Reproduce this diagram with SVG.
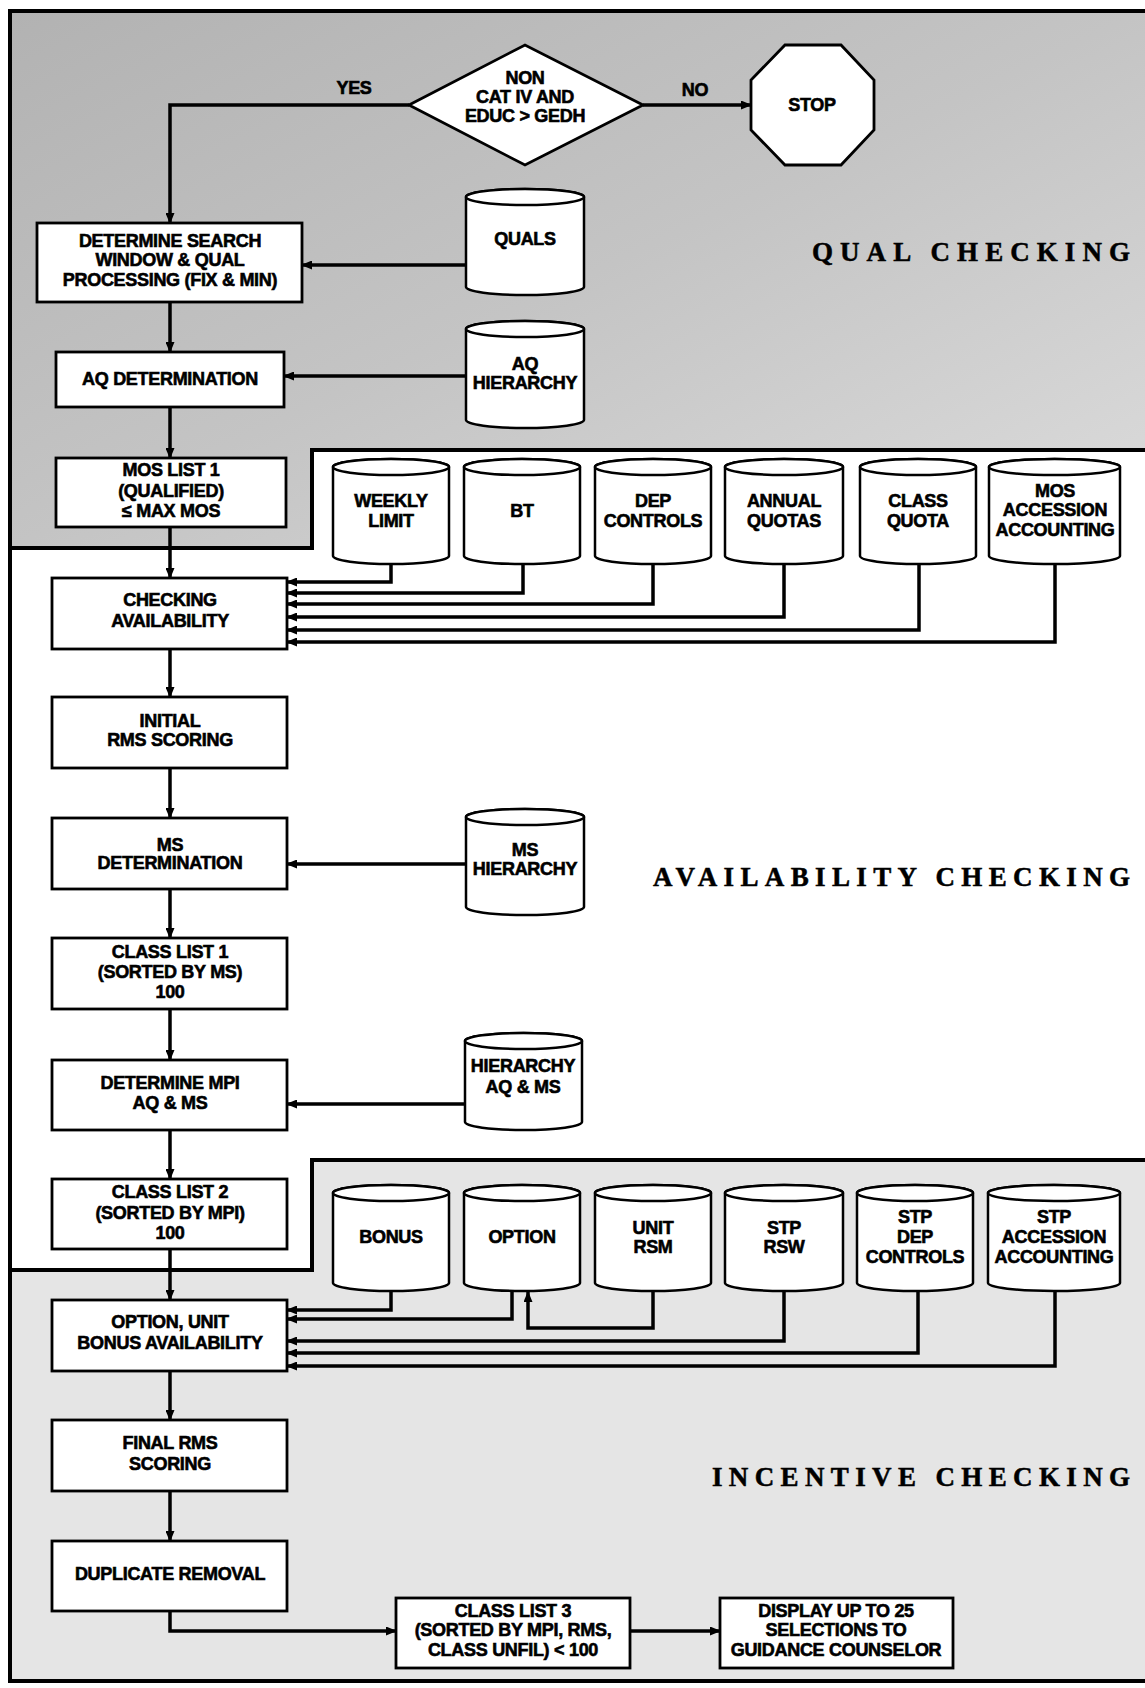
<svg xmlns="http://www.w3.org/2000/svg" width="1145" height="1688" viewBox="0 0 1145 1688">
<defs>
<style>
.box{fill:#fff;stroke:#000;stroke-width:2.8}
.cyl{fill:#fff;stroke:#000;stroke-width:2.5}
.t{font-family:"Liberation Sans",Arial,sans-serif;font-weight:bold;font-size:18px;text-anchor:middle;fill:#000;stroke:#000;stroke-width:0.6;letter-spacing:-0.3px}
.c{fill:none;stroke:#000;stroke-width:3.5}
.a{marker-end:url(#ah)}
.frame{fill:none;stroke:#000;stroke-width:4}
.title{font-family:"Liberation Serif","Times New Roman",serif;font-weight:bold;font-size:27px;fill:#000;stroke:#000;stroke-width:0.5}
</style>
<marker id="ah" markerUnits="userSpaceOnUse" markerWidth="11" markerHeight="9" refX="10" refY="4.5" orient="auto"><path d="M0,0 L11,4.5 L0,9 z" fill="#000"/></marker>
<linearGradient id="gq" x1="0" y1="0" x2="1" y2="1">
<stop offset="0" stop-color="#b2b2b2"/>
<stop offset="0.5" stop-color="#c4c4c4"/>
<stop offset="1" stop-color="#dcdcdc"/>
</linearGradient>
</defs>
<rect width="1145" height="1688" fill="#fff"/>
<g id="regions">
<path d="M10,11 H1145 V450 H312 V548 H10 Z" fill="url(#gq)"/>
<path d="M10,1270 H312 V1160 H1145 V1681 H10 Z" fill="#e5e5e5"/>
<path class="frame" d="M1145,11 H10 V1681 H1145"/>
<path class="frame" d="M10,548 H312 V450 H1145"/>
<path class="frame" d="M10,1270 H312 V1160 H1145"/>
<text class="title" x="812" y="261" textLength="318" lengthAdjust="spacing">QUAL CHECKING</text>
<text class="title" x="653" y="886" textLength="477" lengthAdjust="spacing">AVAILABILITY CHECKING</text>
<text class="title" x="712" y="1486" textLength="418" lengthAdjust="spacing">INCENTIVE CHECKING</text>
</g>
<g id="connectors">
<path class="c a" d="M409,105 H170 V223"/>
<path class="c a" d="M643,105 H751"/>
<path class="c a" d="M466,265 H302"/>
<path class="c a" d="M170,302 V352"/>
<path class="c a" d="M466,376 H284"/>
<path class="c a" d="M170,407 V458"/>
<path class="c a" d="M170,527 V578"/>
<path class="c a" d="M391,564 V582 H287"/>
<path class="c a" d="M523,564 V593 H287"/>
<path class="c a" d="M653,564 V604 H287"/>
<path class="c a" d="M784,564 V617 H287"/>
<path class="c a" d="M919,564 V630 H287"/>
<path class="c a" d="M1055,564 V642 H287"/>
<path class="c a" d="M170,649 V697"/>
<path class="c a" d="M170,768 V818"/>
<path class="c a" d="M466,864 H287"/>
<path class="c a" d="M170,889 V938"/>
<path class="c a" d="M170,1009 V1060"/>
<path class="c a" d="M465,1104 H287"/>
<path class="c a" d="M170,1130 V1179"/>
<path class="c a" d="M170,1249 V1300"/>
<path class="c a" d="M391,1291 V1310 H287"/>
<path class="c a" d="M512,1291 V1319 H287"/>
<path class="c a" d="M653,1291 V1328 H528 V1292"/>
<path class="c a" d="M784,1291 V1341 H287"/>
<path class="c a" d="M918,1291 V1353 H287"/>
<path class="c a" d="M1055,1291 V1366 H287"/>
<path class="c a" d="M170,1371 V1420"/>
<path class="c a" d="M170,1491 V1541"/>
<path class="c a" d="M170,1611 V1631 H396"/>
<path class="c a" d="M630,1631 H720"/>
<text class="t" x="354" y="94" font-size="16">YES</text>
<text class="t" x="695" y="96" font-size="16">NO</text>
</g>
<g id="n-decision">
<polygon class="box" points="409,105 525,45 643,105 525,165"/>
<text class="t" x="525" y="84">NON</text>
<text class="t" x="525" y="103">CAT IV AND</text>
<text class="t" x="525" y="122">EDUC &gt; GEDH</text>
</g>
<g id="n-stop">
<polygon class="box" points="785,45 841,45 874,80 874,130 841,165 785,165 751,130 751,80"/>
<text class="t" x="812" y="111">STOP</text>
</g>
<g id="n-search">
<rect class="box" x="37" y="223" width="265" height="79"/>
<text class="t" x="170" y="247">DETERMINE SEARCH</text>
<text class="t" x="170" y="266">WINDOW &amp; QUAL</text>
<text class="t" x="170" y="286">PROCESSING (FIX &amp; MIN)</text>
</g>
<g id="n-quals">
<path class="cyl" d="M466,197 V287 A59,8 0 0 0 584,287 V197 A59,8 0 0 0 466,197 Z"/>
<ellipse class="cyl" cx="525" cy="197" rx="59" ry="8"/>
<text class="t" x="525" y="245">QUALS</text>
</g>
<g id="n-aqdet">
<rect class="box" x="56" y="352" width="228" height="55"/>
<text class="t" x="170" y="385">AQ DETERMINATION</text>
</g>
<g id="n-aqhier">
<path class="cyl" d="M466,329 V420 A59,8 0 0 0 584,420 V329 A59,8 0 0 0 466,329 Z"/>
<ellipse class="cyl" cx="525" cy="329" rx="59" ry="8"/>
<text class="t" x="525" y="370">AQ</text>
<text class="t" x="525" y="389">HIERARCHY</text>
</g>
<g id="n-mos1">
<rect class="box" x="56" y="458" width="230" height="69"/>
<text class="t" x="171" y="476">MOS LIST 1</text>
<text class="t" x="171" y="497">(QUALIFIED)</text>
<text class="t" x="171" y="517">≤ MAX MOS</text>
</g>
<g id="n-checkavail">
<rect class="box" x="52" y="578" width="235" height="71"/>
<text class="t" x="170" y="606">CHECKING</text>
<text class="t" x="170" y="627">AVAILABILITY</text>
</g>
<g id="n-weekly">
<path class="cyl" d="M333,467 V556 A58,8 0 0 0 449,556 V467 A58,8 0 0 0 333,467 Z"/>
<ellipse class="cyl" cx="391" cy="467" rx="58" ry="8"/>
<text class="t" x="391" y="507">WEEKLY</text>
<text class="t" x="391" y="527">LIMIT</text>
</g>
<g id="n-bt">
<path class="cyl" d="M464,467 V556 A58,8 0 0 0 580,556 V467 A58,8 0 0 0 464,467 Z"/>
<ellipse class="cyl" cx="522" cy="467" rx="58" ry="8"/>
<text class="t" x="522" y="517">BT</text>
</g>
<g id="n-dep">
<path class="cyl" d="M595,467 V556 A58,8 0 0 0 711,556 V467 A58,8 0 0 0 595,467 Z"/>
<ellipse class="cyl" cx="653" cy="467" rx="58" ry="8"/>
<text class="t" x="653" y="507">DEP</text>
<text class="t" x="653" y="527">CONTROLS</text>
</g>
<g id="n-annual">
<path class="cyl" d="M725,467 V556 A59,8 0 0 0 843,556 V467 A59,8 0 0 0 725,467 Z"/>
<ellipse class="cyl" cx="784" cy="467" rx="59" ry="8"/>
<text class="t" x="784" y="507">ANNUAL</text>
<text class="t" x="784" y="527">QUOTAS</text>
</g>
<g id="n-classquota">
<path class="cyl" d="M860,467 V556 A58,8 0 0 0 976,556 V467 A58,8 0 0 0 860,467 Z"/>
<ellipse class="cyl" cx="918" cy="467" rx="58" ry="8"/>
<text class="t" x="918" y="507">CLASS</text>
<text class="t" x="918" y="527">QUOTA</text>
</g>
<g id="n-mosacc">
<path class="cyl" d="M989,467 V556 A65.5,8 0 0 0 1120,556 V467 A65.5,8 0 0 0 989,467 Z"/>
<ellipse class="cyl" cx="1054.5" cy="467" rx="65.5" ry="8"/>
<text class="t" x="1055" y="497">MOS</text>
<text class="t" x="1055" y="516">ACCESSION</text>
<text class="t" x="1055" y="536">ACCOUNTING</text>
</g>
<g id="n-initial">
<rect class="box" x="52" y="697" width="235" height="71"/>
<text class="t" x="170" y="727">INITIAL</text>
<text class="t" x="170" y="746">RMS SCORING</text>
</g>
<g id="n-msdet">
<rect class="box" x="52" y="818" width="235" height="71"/>
<text class="t" x="170" y="851">MS</text>
<text class="t" x="170" y="869">DETERMINATION</text>
</g>
<g id="n-mshier">
<path class="cyl" d="M466,817 V907 A59,8 0 0 0 584,907 V817 A59,8 0 0 0 466,817 Z"/>
<ellipse class="cyl" cx="525" cy="817" rx="59" ry="8"/>
<text class="t" x="525" y="856">MS</text>
<text class="t" x="525" y="875">HIERARCHY</text>
</g>
<g id="n-cl1">
<rect class="box" x="52" y="938" width="235" height="71"/>
<text class="t" x="170" y="958">CLASS LIST 1</text>
<text class="t" x="170" y="978">(SORTED BY MS)</text>
<text class="t" x="170" y="998">100</text>
</g>
<g id="n-detmpi">
<rect class="box" x="52" y="1060" width="235" height="70"/>
<text class="t" x="170" y="1089">DETERMINE MPI</text>
<text class="t" x="170" y="1109">AQ &amp; MS</text>
</g>
<g id="n-hieraqms">
<path class="cyl" d="M465,1041 V1122 A58.5,8 0 0 0 582,1122 V1041 A58.5,8 0 0 0 465,1041 Z"/>
<ellipse class="cyl" cx="523.5" cy="1041" rx="58.5" ry="8"/>
<text class="t" x="523" y="1072">HIERARCHY</text>
<text class="t" x="523" y="1093">AQ &amp; MS</text>
</g>
<g id="n-cl2">
<rect class="box" x="52" y="1179" width="235" height="70"/>
<text class="t" x="170" y="1198">CLASS LIST 2</text>
<text class="t" x="170" y="1219">(SORTED BY MPI)</text>
<text class="t" x="170" y="1239">100</text>
</g>
<g id="n-bonus">
<path class="cyl" d="M333,1193 V1283 A58,8 0 0 0 449,1283 V1193 A58,8 0 0 0 333,1193 Z"/>
<ellipse class="cyl" cx="391" cy="1193" rx="58" ry="8"/>
<text class="t" x="391" y="1243">BONUS</text>
</g>
<g id="n-option">
<path class="cyl" d="M464,1193 V1283 A58,8 0 0 0 580,1283 V1193 A58,8 0 0 0 464,1193 Z"/>
<ellipse class="cyl" cx="522" cy="1193" rx="58" ry="8"/>
<text class="t" x="522" y="1243">OPTION</text>
</g>
<g id="n-unitrsm">
<path class="cyl" d="M595,1193 V1283 A58,8 0 0 0 711,1283 V1193 A58,8 0 0 0 595,1193 Z"/>
<ellipse class="cyl" cx="653" cy="1193" rx="58" ry="8"/>
<text class="t" x="653" y="1234">UNIT</text>
<text class="t" x="653" y="1253">RSM</text>
</g>
<g id="n-stprsw">
<path class="cyl" d="M725,1193 V1283 A59,8 0 0 0 843,1283 V1193 A59,8 0 0 0 725,1193 Z"/>
<ellipse class="cyl" cx="784" cy="1193" rx="59" ry="8"/>
<text class="t" x="784" y="1234">STP</text>
<text class="t" x="784" y="1253">RSW</text>
</g>
<g id="n-stpdep">
<path class="cyl" d="M857,1193 V1283 A58,8 0 0 0 973,1283 V1193 A58,8 0 0 0 857,1193 Z"/>
<ellipse class="cyl" cx="915" cy="1193" rx="58" ry="8"/>
<text class="t" x="915" y="1223">STP</text>
<text class="t" x="915" y="1243">DEP</text>
<text class="t" x="915" y="1263">CONTROLS</text>
</g>
<g id="n-stpacc">
<path class="cyl" d="M988,1193 V1283 A66,8 0 0 0 1120,1283 V1193 A66,8 0 0 0 988,1193 Z"/>
<ellipse class="cyl" cx="1054" cy="1193" rx="66" ry="8"/>
<text class="t" x="1054" y="1223">STP</text>
<text class="t" x="1054" y="1243">ACCESSION</text>
<text class="t" x="1054" y="1263">ACCOUNTING</text>
</g>
<g id="n-optunit">
<rect class="box" x="52" y="1300" width="235" height="71"/>
<text class="t" x="170" y="1328">OPTION, UNIT</text>
<text class="t" x="170" y="1349">BONUS AVAILABILITY</text>
</g>
<g id="n-final">
<rect class="box" x="52" y="1420" width="235" height="71"/>
<text class="t" x="170" y="1449">FINAL RMS</text>
<text class="t" x="170" y="1470">SCORING</text>
</g>
<g id="n-dup">
<rect class="box" x="52" y="1541" width="235" height="70"/>
<text class="t" x="170" y="1580">DUPLICATE REMOVAL</text>
</g>
<g id="n-cl3">
<rect class="box" x="396" y="1598" width="234" height="70"/>
<text class="t" x="513" y="1617">CLASS LIST 3</text>
<text class="t" x="513" y="1636">(SORTED BY MPI, RMS,</text>
<text class="t" x="513" y="1656">CLASS UNFIL) &lt; 100</text>
</g>
<g id="n-display">
<rect class="box" x="720" y="1598" width="233" height="70"/>
<text class="t" x="836" y="1617">DISPLAY UP TO 25</text>
<text class="t" x="836" y="1636">SELECTIONS TO</text>
<text class="t" x="836" y="1656">GUIDANCE COUNSELOR</text>
</g>
</svg>
